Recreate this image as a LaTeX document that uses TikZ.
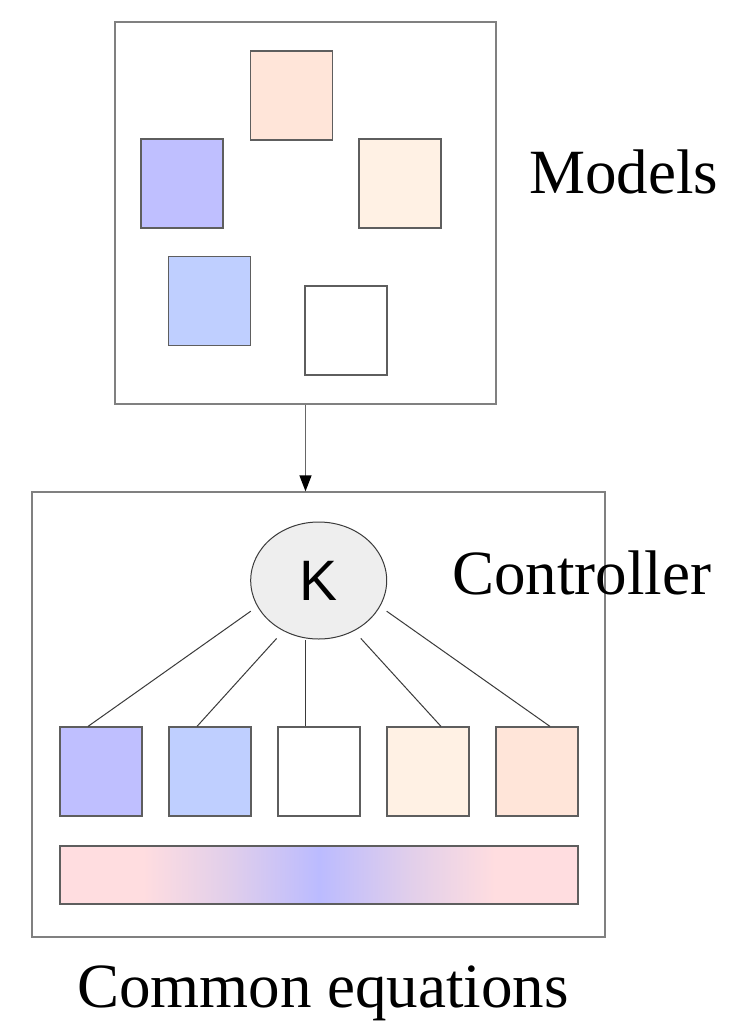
\documentclass[tikz,border=0pt]{standalone}
\usepackage{fontspec}
\setmainfont{Liberation Serif}
\newfontfamily\ksans{Liberation Sans}
\usetikzlibrary{arrows.meta,shapes.geometric,positioning}

\definecolor{boxgray}{HTML}{808080}
\definecolor{tilegray}{HTML}{5E5E5E}
\definecolor{linkgray}{HTML}{3A3A3A}
\definecolor{kgray}{HTML}{EEEEEE}
\definecolor{tileviolet}{HTML}{BFBFFF}
\definecolor{tileblue}{HTML}{BFCFFF}
\definecolor{tilecream}{HTML}{FFF1E4}
\definecolor{tilepeach}{HTML}{FFE5D9}
\definecolor{eqpink}{HTML}{FFDDE0}
\definecolor{eqmid}{HTML}{E2CFEA}
\definecolor{eqblue}{HTML}{BBBBFF}

\pgfdeclarehorizontalshading{eqshade}{100bp}{color(0bp)=(eqpink); color(33bp)=(eqpink);
  color(41bp)=(eqmid); color(50bp)=(eqblue); color(59bp)=(eqmid); color(67bp)=(eqpink); color(100bp)=(eqpink)}

\begin{document}
\begin{tikzpicture}[x=1pt,y=-1pt,node distance=25.8pt,
>={Triangle[length=16pt,width=12pt,color=black]}]
\tikzstyle{box}=[draw=boxgray,line width=1.3pt,fill=white,inner sep=0pt]
\tikzstyle{tile}=[draw=tilegray,line width=1.2pt,minimum width=82pt,minimum height=89pt,inner sep=0pt]
\tikzstyle{link}=[draw=linkgray,line width=1pt]
\tikzstyle{bigtext}=[font=\fontsize{63}{70}\selectfont,inner sep=0pt]

\fill[white] (0,0) rectangle (735,1021);
\useasboundingbox (0,0) rectangle (735,1021);

% models
\node[box,minimum width=381pt,minimum height=382pt] (M) at (305.5,213) {};
\node[tile,fill=tilepeach]  (m1) at (291.5,95.5) {};
\node[tile,fill=tileviolet] (m2) at (182,183.5) {};
\node[tile,fill=tilecream]  (m3) at (400,183.5) {};
\node[tile,fill=tileblue]   (m4) at (209.5,301) {};
\node[tile,fill=white]      (m5) at (346,330.5) {};
\node[bigtext,anchor=base west] (Mt) at (529,193) {Models};

% controller
\node[box,minimum width=573pt,minimum height=445pt] (C) at (318.5,714.5) {};
\node[ellipse,draw=linkgray,line width=1pt,fill=kgray,minimum width=136pt,minimum height=117pt,
inner sep=0pt,font=\ksans\fontsize{57}{60}\selectfont] (K) at (318.7,580.5) {K};
\node[bigtext,anchor=base west] (Ct) at (452,594) {Controller};

\node[tile,fill=tileviolet] (s1) at (101,771.5) {};
\node[tile,fill=tileblue]   (s2) [right=of s1] {};
\node[tile,fill=white]      (s3) [right=of s2] {};
\node[tile,fill=tilecream]  (s4) [right=of s3] {};
\node[tile,fill=tilepeach]  (s5) [right=of s4] {};

\node[draw=tilegray,line width=1.2pt,shading=eqshade,minimum width=518pt,minimum height=58pt,
inner sep=0pt] (E) at (319,875) {};
\node[bigtext,anchor=base] (Et) at (323,1007) {Common equations};

\draw[->,draw=boxgray!80!black,line width=1.3pt] (M.south) -- (M.south |- C.north);

\path[link] (K.203) edge[shorten <=8pt] ([xshift=-13pt]s1.north)
(K.235) edge[shorten <=10pt] ([xshift=-13pt]s2.north)
([xshift=-13.5pt]s3.north) edge ([xshift=-13.5pt]s3.north |- K.south)
(K.-55) edge[shorten <=10pt] ([xshift=13pt]s4.north)
(K.-23) edge[shorten <=8pt] ([xshift=13pt]s5.north);
\end{tikzpicture}
\end{document}
